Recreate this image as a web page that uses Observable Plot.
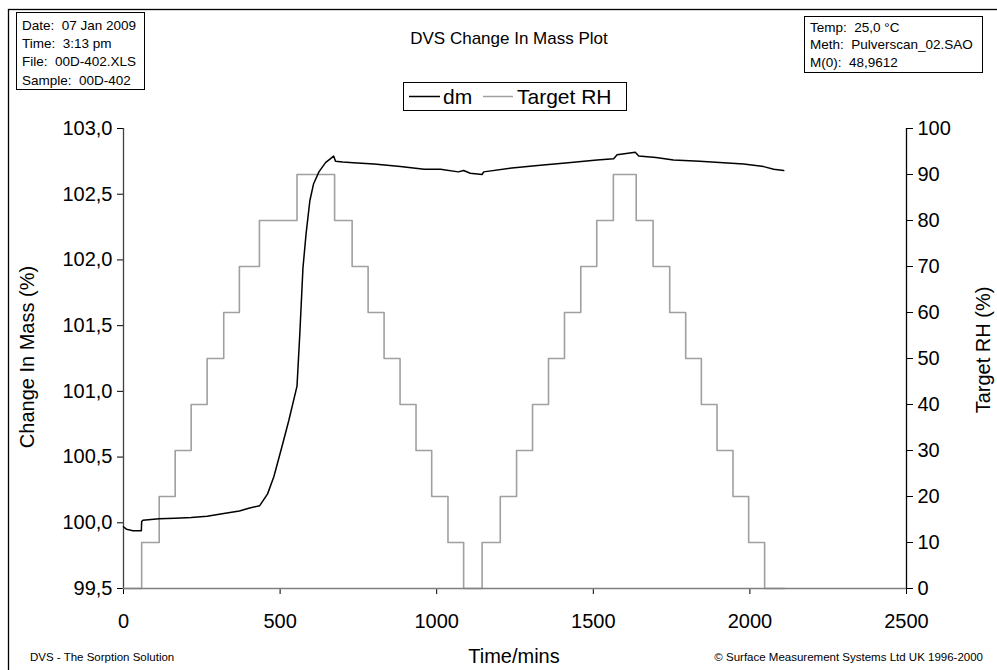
<!DOCTYPE html>
<html>
<head>
<meta charset="utf-8">
<script src="https://cdn.jsdelivr.net/npm/d3@7"></script>
<script src="https://cdn.jsdelivr.net/npm/@observablehq/plot@0.6"></script>
<style>
  html, body { margin: 0; padding: 0; background: #fff; }
  #chart { width: 997px; height: 670px; }
</style>
</head>
<body>
<div id="chart"></div>
<script>
// ---- data ----
const xTicks = [0, 500, 1000, 1500, 2000, 2500];
const massTicks = [99.5, 100.0, 100.5, 101.0, 101.5, 102.0, 102.5, 103.0];
const rhTicks = [0, 10, 20, 30, 40, 50, 60, 70, 80, 90, 100];

const rhTime = [0, 58, 114, 165, 216, 267, 320, 370, 434, 554, 674, 730, 781, 832, 883, 934, 984, 1036, 1086,
  1145, 1203, 1255, 1306, 1357, 1408, 1460, 1511, 1564, 1637, 1691, 1744, 1795, 1845, 1895, 1946, 1996, 2047, 2110];
const rhValue = [0, 10, 20, 30, 40, 50, 60, 70, 80, 90, 80, 70, 60, 50, 40, 30, 20, 10, 0,
  10, 20, 30, 40, 50, 60, 70, 80, 90, 80, 70, 60, 50, 40, 30, 20, 10, 0, 0];

const dmTime = [0, 10, 30, 57, 58, 62, 114, 165, 216, 267, 320, 370, 400, 435, 460, 480, 506, 528, 554, 563, 573, 583,
  595, 607, 624, 645, 671, 677, 700, 734, 800, 884, 960, 1012, 1069, 1086, 1107, 1145, 1150, 1240, 1331, 1420, 1512,
  1565, 1576, 1634, 1645, 1700, 1756, 1840, 1916, 1980, 2044, 2076, 2108];
const dmValue = [99.97, 99.95, 99.94, 99.94, 100.01, 100.02, 100.03, 100.035, 100.04, 100.05, 100.07, 100.09, 100.11,
  100.13, 100.22, 100.35, 100.58, 100.78, 101.04, 101.44, 101.94, 102.20, 102.45, 102.58, 102.67, 102.74, 102.79,
  102.75, 102.745, 102.74, 102.73, 102.71, 102.69, 102.69, 102.67, 102.68, 102.66, 102.65, 102.67, 102.70, 102.72,
  102.74, 102.76, 102.77, 102.80, 102.82, 102.79, 102.78, 102.76, 102.75, 102.74, 102.73, 102.71, 102.69, 102.68];

const infoLeft = ["Date:  07 Jan 2009", "Time:  3:13 pm", "File:  00D-402.XLS", "Sample:  00D-402"];
const infoRight = ["Temp:  25,0 °C", "Meth:  Pulverscan_02.SAO", "M(0):  48,9612"];
const titleText = "DVS Change In Mass Plot";
const seriesNames = ["dm", "Target RH"];

// ---- helpers ----
const massMin = 99.5, massMax = 103.0;
const rhToMass = rh => massMin + rh * (massMax - massMin) / 100;
const rhData = rhTime.map((t, i) => ({t, v: rhToMass(rhValue[i])}));
const dmData = dmTime.map((t, i) => ({t, v: dmValue[i]}));
const fmtMass = d => d.toFixed(1).replace(".", ",");

const FONT = "'Liberation Sans', Arial, sans-serif";
const RH_COLOR = "#a0a0a0";

const chart = Plot.plot({
  width: 997,
  height: 670,
  marginLeft: 123,
  marginRight: 91,
  marginTop: 128,
  marginBottom: 82,
  style: {fontFamily: FONT, fontSize: "20px", color: "#000", background: "#fff", overflow: "visible"},
  x: {domain: [0, 2500]},
  y: {domain: [massMin, massMax]},
  marks: [
    Plot.axisX({ticks: xTicks, tickSize: 6, tickPadding: 19, tickFormat: d => String(d), label: null}),
    Plot.axisY({ticks: massTicks, tickSize: 6, tickPadding: 5, tickFormat: fmtMass, label: null}),
    Plot.axisY({anchor: "right", ticks: rhTicks.map(rhToMass), tickSize: 6, tickPadding: 5,
      tickFormat: d => String(Math.round((d - massMin) * 100 / (massMax - massMin))), label: null}),
    Plot.ruleX([0], {stroke: "#404040", strokeWidth: 1.3}),
    Plot.ruleX([2500], {stroke: "#000", strokeWidth: 1.3}),
    Plot.line(rhData, {x: "t", y: "v", curve: "step-after", stroke: RH_COLOR, strokeWidth: 1.6}),
    Plot.ruleY([massMin], {stroke: "#808080", strokeWidth: 1.6}),
    Plot.line(dmData, {x: "t", y: "v", stroke: "#000", strokeWidth: 1.5})
  ]
});
document.getElementById("chart").appendChild(chart);

// ---- annotations (frame, info boxes, title, legend, labels) ----
const svg = d3.select(chart);
const g = svg.append("g").attr("font-family", FONT).attr("fill", "#000").attr("text-anchor", "start");

// outer border
g.append("rect").attr("x", 8.5).attr("y", 9.5).attr("width", 995).attr("height", 670)
  .attr("fill", "none").attr("stroke", "#000").attr("stroke-width", 1.3);

// left info box
g.append("rect").attr("x", 16.5).attr("y", 12.5).attr("width", 128).attr("height", 77)
  .attr("fill", "#fff").attr("stroke", "#000").attr("stroke-width", 1);
infoLeft.forEach((s, i) => g.append("text").attr("x", 22).attr("y", 25 + i * 18.3).attr("dy", "0.35em")
  .attr("text-anchor", "start").attr("font-size", 13.5).style("white-space", "pre").text(s));

// right info box
g.append("rect").attr("x", 804.5).attr("y", 16.5).attr("width", 178).attr("height", 56)
  .attr("fill", "#fff").attr("stroke", "#000").attr("stroke-width", 1);
infoRight.forEach((s, i) => g.append("text").attr("x", 810).attr("y", 27 + i * 17.5).attr("dy", "0.35em")
  .attr("text-anchor", "start").attr("font-size", 13.5).style("white-space", "pre").text(s));

// title
g.append("text").attr("x", 509).attr("y", 38).attr("dy", "0.35em").attr("text-anchor", "middle")
  .attr("font-size", 17).text(titleText);

// legend
g.append("rect").attr("x", 403.5).attr("y", 82.5).attr("width", 223).attr("height", 28)
  .attr("fill", "#fff").attr("stroke", "#000").attr("stroke-width", 1);
g.append("line").attr("x1", 409).attr("x2", 440).attr("y1", 96.5).attr("y2", 96.5).attr("stroke", "#000").attr("stroke-width", 1.5);
g.append("text").attr("x", 443).attr("y", 97).attr("dy", "0.35em").attr("text-anchor", "start")
  .attr("font-size", 21).text(seriesNames[0]);
g.append("line").attr("x1", 483).attr("x2", 513).attr("y1", 96.5).attr("y2", 96.5).attr("stroke", RH_COLOR).attr("stroke-width", 1.5);
g.append("text").attr("x", 517).attr("y", 97).attr("dy", "0.35em").attr("text-anchor", "start")
  .attr("font-size", 21).text(seriesNames[1]);

// axis labels
g.append("text").attr("transform", "translate(27,357) rotate(-90)").attr("dy", "0.35em")
  .attr("text-anchor", "middle").attr("font-size", 20).text("Change In Mass (%)");
g.append("text").attr("transform", "translate(983,350) rotate(-90)").attr("dy", "0.35em")
  .attr("text-anchor", "middle").attr("font-size", 20).text("Target RH (%)");
g.append("text").attr("x", 514).attr("y", 656).attr("dy", "0.35em").attr("text-anchor", "middle")
  .attr("font-size", 20).text("Time/mins");

// footer
g.append("text").attr("x", 30).attr("y", 657).attr("dy", "0.35em").attr("text-anchor", "start")
  .attr("font-size", 11.5).text("DVS - The Sorption Solution");
g.append("text").attr("x", 983).attr("y", 657).attr("dy", "0.35em").attr("text-anchor", "end")
  .attr("font-size", 11.5).text("© Surface Measurement Systems Ltd UK 1996-2000");
</script>
</body>
</html>
